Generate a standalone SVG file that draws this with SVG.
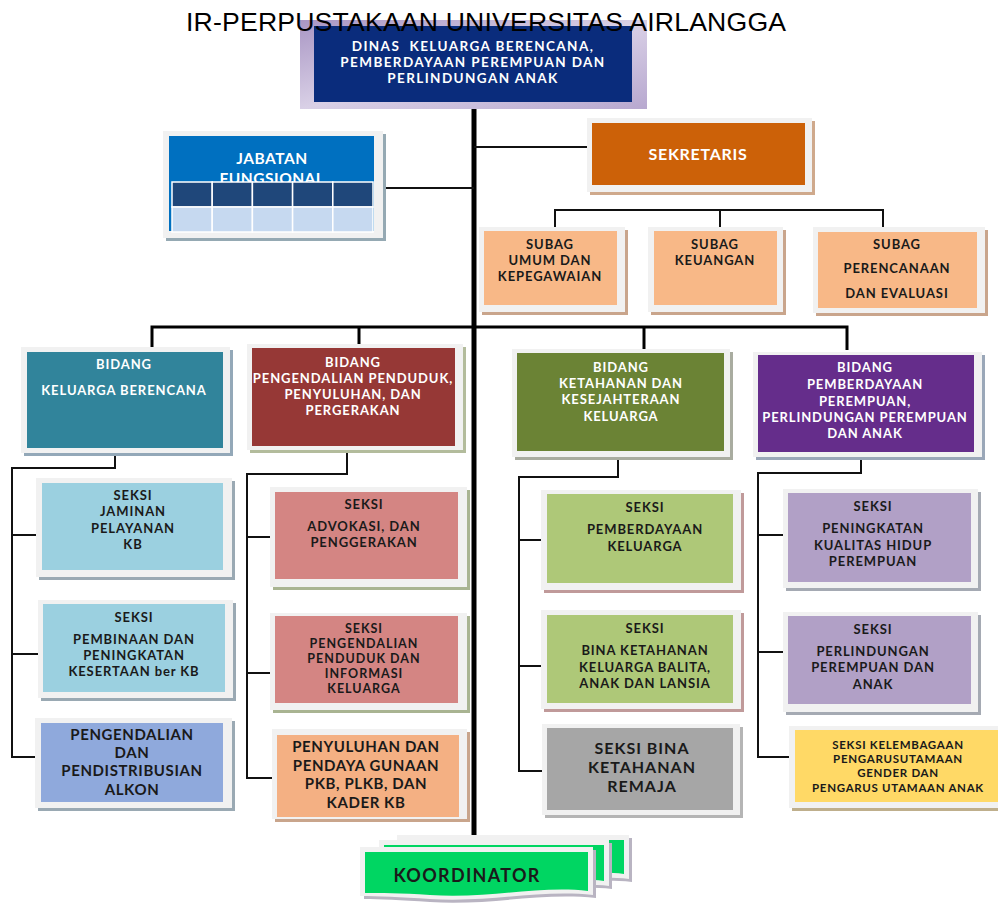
<svg xmlns="http://www.w3.org/2000/svg" width="998" height="905" viewBox="0 0 998 905">
<defs>
<linearGradient id="topg" x1="0" y1="0" x2="1" y2="1">
<stop offset="0" stop-color="#A996C4"/><stop offset="0.5" stop-color="#D9D0E6"/><stop offset="1" stop-color="#B7A8CF"/>
</linearGradient>
</defs>
<style>
.t{font-family:Lato,"Open Sans","DejaVu Sans",sans-serif;font-weight:700;text-anchor:middle;font-size:13px;letter-spacing:0.9px}
.w{fill:#ffffff}
.k{fill:#1a1a1a}
.big{font-size:15px;letter-spacing:0.6px}
.sm{font-size:11.5px;letter-spacing:0.7px}
.p5{font-size:12.5px;letter-spacing:1px}
.hd{font-size:13.5px;letter-spacing:1.4px}
.jb{font-size:15.5px;letter-spacing:0.5px}
.sk{font-size:16px;letter-spacing:0.7px}
.rm{font-size:16px;letter-spacing:1px}
.ko{font-size:18px;letter-spacing:1.3px}
.fr{fill:#F1F1F1}
.c{fill:none;stroke:#111;stroke-width:2}
.cb{fill:none;stroke:#000;stroke-width:3}
.trunk{fill:none;stroke:#000;stroke-width:5}
</style>
<rect width="998" height="905" fill="#ffffff"/>

<g id="connectors">
<line class="trunk" x1="474" y1="108" x2="474" y2="836"/>
<line class="c" x1="383" y1="188" x2="474" y2="188"/>
<line class="c" x1="474" y1="147" x2="587" y2="147"/>
<polyline class="c" points="555,227 555,210 883,210 883,227"/>
<line class="c" x1="720" y1="210" x2="720" y2="227"/>
<polyline class="cb" points="152,347 152,327 847,327 847,350"/>
<line class="cb" x1="359" y1="327" x2="359" y2="344"/>
<line class="cb" x1="644" y1="327" x2="644" y2="349"/>
<polyline class="c" points="115,453 115,468 12,468 12,757 35,757"/>
<line class="c" x1="12" y1="535" x2="36" y2="535"/>
<line class="c" x1="12" y1="654" x2="38" y2="654"/>
<polyline class="c" points="347,450 347,474 247,474 247,778 272,778"/>
<line class="c" x1="247" y1="537" x2="270" y2="537"/>
<line class="c" x1="247" y1="673" x2="270" y2="673"/>
<polyline class="c" points="618,457 618,477 519,477 519,771 542,771"/>
<line class="c" x1="519" y1="540" x2="541" y2="540"/>
<line class="c" x1="519" y1="666" x2="541" y2="666"/>
<polyline class="c" points="861,457 861,473 758,473 758,757 789,757"/>
<line class="c" x1="758" y1="535" x2="783" y2="535"/>
<line class="c" x1="758" y1="652" x2="783" y2="652"/>
</g>

<g id="dinas">
<rect x="300" y="20" width="347" height="89" fill="url(#topg)"/>
<rect x="314" y="26" width="318" height="76" fill="#0A2C7C"/>
<text class="t w hd" x="473" y="51" style="white-space:pre">DINAS  KELUARGA BERENCANA,</text>
<text class="t w hd" x="473" y="67">PEMBERDAYAAN PEREMPUAN DAN</text>
<text class="t w hd" x="473" y="83">PERLINDUNGAN ANAK</text>
</g>

<g id="title">
<text x="186" y="31" font-family="'Liberation Sans',Arial,sans-serif" font-size="26.6" fill="#000" textLength="600">IR-PERPUSTAKAAN UNIVERSITAS AIRLANGGA</text>
</g>

<g id="jabatan">
<rect x="166" y="134" width="220" height="107" fill="#95A9B3"/>
<rect class="fr" x="163" y="131" width="220" height="107"/>
<rect x="169" y="136" width="205" height="95" fill="#0070C0"/>
<text class="t w jb" x="272" y="164">JABATAN</text>
<text class="t w jb" x="272" y="184">FUNGSIONAL</text>
<g stroke="#ffffff" stroke-width="1.5">
<rect x="172" y="182" width="40.2" height="25" fill="#1F477A"/>
<rect x="212.2" y="182" width="40.2" height="25" fill="#1F477A"/>
<rect x="252.4" y="182" width="40.2" height="25" fill="#1F477A"/>
<rect x="292.6" y="182" width="40.2" height="25" fill="#1F477A"/>
<rect x="332.8" y="182" width="40.2" height="25" fill="#1F477A"/>
<rect x="172" y="207" width="40.2" height="25" fill="#C6D9F0"/>
<rect x="212.2" y="207" width="40.2" height="25" fill="#C6D9F0"/>
<rect x="252.4" y="207" width="40.2" height="25" fill="#C6D9F0"/>
<rect x="292.6" y="207" width="40.2" height="25" fill="#C6D9F0"/>
<rect x="332.8" y="207" width="40.2" height="25" fill="#C6D9F0"/>
</g>
</g>

<g id="sekretaris">
<rect x="590" y="121" width="225" height="74" fill="#CFA98C"/>
<rect class="fr" x="587" y="118" width="225" height="74"/>
<rect x="592" y="123" width="213" height="62" fill="#CC6108"/>
<text class="t w sk" x="698" y="160">SEKRETARIS</text>
</g>

<g id="subag-umum">
<rect x="482" y="230" width="146" height="85" fill="#C9A58C"/>
<rect class="fr" x="479" y="227" width="146" height="85"/>
<rect x="484" y="231" width="133" height="74" fill="#F8B887"/>
<text class="t k" x="550" y="249">SUBAG</text>
<text class="t k" x="550" y="265">UMUM DAN</text>
<text class="t k" x="550" y="281">KEPEGAWAIAN</text>
</g>
<g id="subag-keuangan">
<rect x="651" y="230" width="135" height="85" fill="#C9A58C"/>
<rect class="fr" x="648" y="227" width="135" height="85"/>
<rect x="654" y="231" width="123" height="74" fill="#F8B887"/>
<text class="t k" x="715" y="249">SUBAG</text>
<text class="t k" x="715" y="265">KEUANGAN</text>
</g>
<g id="subag-perencanaan">
<rect x="816" y="230" width="172" height="86" fill="#C9A58C"/>
<rect class="fr" x="813" y="227" width="172" height="86"/>
<rect x="818" y="232" width="159" height="76" fill="#F8B887"/>
<text class="t k" x="897" y="249">SUBAG</text>
<text class="t k" x="897" y="273">PERENCANAAN</text>
<text class="t k" x="897" y="298">DAN EVALUASI</text>
</g>

<g id="bidang-kb">
<rect x="24" y="350" width="209" height="106" fill="#93A8B8"/>
<rect class="fr" x="21" y="347" width="209" height="106"/>
<rect x="27" y="352" width="196" height="96" fill="#31849B"/>
<text class="t w" x="124" y="369">BIDANG</text>
<text class="t w" x="124" y="395">KELUARGA BERENCANA</text>
</g>
<g id="bidang-pengendalian">
<rect x="250" y="347" width="216" height="106" fill="#B3BC9C"/>
<rect class="fr" x="247" y="344" width="216" height="106"/>
<rect x="252" y="348" width="203" height="98" fill="#963836"/>
<text class="t w" x="353" y="367">BIDANG</text>
<text class="t w" x="353" y="383">PENGENDALIAN PENDUDUK,</text>
<text class="t w" x="353" y="399">PENYULUHAN, DAN</text>
<text class="t w" x="353" y="415">PERGERAKAN</text>
</g>
<g id="bidang-ketahanan">
<rect x="515" y="352" width="218" height="108" fill="#A9ACA0"/>
<rect class="fr" x="512" y="349" width="218" height="108"/>
<rect x="517" y="353" width="207" height="98" fill="#6B8335"/>
<text class="t w" x="621" y="372">BIDANG</text>
<text class="t w" x="621" y="388">KETAHANAN DAN</text>
<text class="t w" x="621" y="404">KESEJAHTERAAN</text>
<text class="t w" x="621" y="421">KELUARGA</text>
</g>
<g id="bidang-pemberdayaan">
<rect x="756" y="355" width="229" height="105" fill="#9AA7B8"/>
<rect class="fr" x="753" y="352" width="229" height="105"/>
<rect x="758" y="355" width="216" height="97" fill="#652D8B"/>
<text class="t w" x="865" y="372">BIDANG</text>
<text class="t w" x="865" y="389">PEMBERDAYAAN</text>
<text class="t w" x="865" y="406">PEREMPUAN,</text>
<text class="t w" x="865" y="422">PERLINDUNGAN PEREMPUAN</text>
<text class="t w" x="865" y="438">DAN ANAK</text>
</g>

<g id="seksi-jaminan">
<rect x="39" y="481" width="196" height="99" fill="#9AA9B3"/>
<rect class="fr" x="36" y="478" width="196" height="99"/>
<rect x="42" y="483" width="181" height="87" fill="#9BD0E0"/>
<text class="t k" x="133" y="500">SEKSI</text>
<text class="t k" x="133" y="516">JAMINAN</text>
<text class="t k" x="133" y="533">PELAYANAN</text>
<text class="t k" x="133" y="549">KB</text>
</g>
<g id="seksi-pembinaan">
<rect x="41" y="603" width="195" height="98" fill="#9AA9B3"/>
<rect class="fr" x="38" y="600" width="195" height="98"/>
<rect x="43" y="604" width="182" height="88" fill="#9BD0E0"/>
<text class="t k" x="134" y="622">SEKSI</text>
<text class="t k" x="134" y="644">PEMBINAAN DAN</text>
<text class="t k" x="134" y="660">PENINGKATAN</text>
<text class="t k" x="134" y="676">KESERTAAN ber KB</text>
</g>
<g id="pengendalian-alkon">
<rect x="38" y="721" width="197" height="90" fill="#9AA9B3"/>
<rect class="fr" x="35" y="718" width="197" height="90"/>
<rect x="41" y="723" width="182" height="79" fill="#8FA9DC"/>
<text class="t k big" x="132" y="740">PENGENDALIAN</text>
<text class="t k big" x="132" y="758">DAN</text>
<text class="t k big" x="132" y="776">PENDISTRIBUSIAN</text>
<text class="t k big" x="132" y="795">ALKON</text>
</g>

<g id="seksi-advokasi">
<rect x="273" y="490" width="197" height="100" fill="#A9B492"/>
<rect class="fr" x="270" y="487" width="197" height="100"/>
<rect x="275" y="492" width="183" height="87" fill="#D48583"/>
<text class="t k" x="364" y="509">SEKSI</text>
<text class="t k" x="364" y="531">ADVOKASI, DAN</text>
<text class="t k" x="364" y="547">PENGGERAKAN</text>
</g>
<g id="seksi-pengendalian-penduduk">
<rect x="273" y="616" width="197" height="97" fill="#A9B492"/>
<rect class="fr" x="270" y="613" width="197" height="97"/>
<rect x="275" y="616" width="183" height="87" fill="#D48583"/>
<text class="t k p5" x="364" y="633">SEKSI</text>
<text class="t k p5" x="364" y="648">PENGENDALIAN</text>
<text class="t k p5" x="364" y="663">PENDUDUK DAN</text>
<text class="t k p5" x="364" y="678">INFORMASI</text>
<text class="t k p5" x="364" y="693">KELUARGA</text>
</g>
<g id="penyuluhan">
<rect x="275" y="732" width="195" height="90" fill="#C9A58C"/>
<rect class="fr" x="272" y="729" width="195" height="90"/>
<rect x="277" y="735" width="182" height="82" fill="#F4B083"/>
<text class="t k big" x="366" y="752">PENYULUHAN DAN</text>
<text class="t k big" x="366" y="771">PENDAYA GUNAAN</text>
<text class="t k big" x="366" y="789">PKB, PLKB, DAN</text>
<text class="t k big" x="366" y="808">KADER KB</text>
</g>

<g id="seksi-pemberdayaan-keluarga">
<rect x="544" y="493" width="200" height="100" fill="#C09A9A"/>
<rect class="fr" x="541" y="490" width="200" height="100"/>
<rect x="547" y="494" width="186" height="89" fill="#AEC878"/>
<text class="t k" x="645" y="512">SEKSI</text>
<text class="t k" x="645" y="534">PEMBERDAYAAN</text>
<text class="t k" x="645" y="551">KELUARGA</text>
</g>
<g id="seksi-bina-balita">
<rect x="544" y="613" width="200" height="99" fill="#C09A9A"/>
<rect class="fr" x="541" y="610" width="200" height="99"/>
<rect x="547" y="615" width="186" height="88" fill="#AEC878"/>
<text class="t k" x="645" y="633">SEKSI</text>
<text class="t k" x="645" y="655">BINA KETAHANAN</text>
<text class="t k" x="645" y="672">KELUARGA BALITA,</text>
<text class="t k" x="645" y="688">ANAK DAN LANSIA</text>
</g>
<g id="seksi-bina-remaja">
<rect x="545" y="727" width="198" height="91" fill="#B5B5B5"/>
<rect class="fr" x="542" y="724" width="198" height="91"/>
<rect x="547" y="728" width="186" height="82" fill="#A6A6A6"/>
<text class="t k rm" x="642" y="754">SEKSI BINA</text>
<text class="t k rm" x="642" y="773">KETAHANAN</text>
<text class="t k rm" x="642" y="792">REMAJA</text>
</g>

<g id="seksi-kualitas-hidup">
<rect x="786" y="492" width="195" height="99" fill="#A5AAB3"/>
<rect class="fr" x="783" y="489" width="195" height="99"/>
<rect x="788" y="493" width="183" height="89" fill="#B1A0C6"/>
<text class="t k" x="873" y="511">SEKSI</text>
<text class="t k" x="873" y="533">PENINGKATAN</text>
<text class="t k" x="873" y="550">KUALITAS HIDUP</text>
<text class="t k" x="873" y="566">PEREMPUAN</text>
</g>
<g id="seksi-perlindungan">
<rect x="786" y="615" width="195" height="100" fill="#A5AAB3"/>
<rect class="fr" x="783" y="612" width="195" height="100"/>
<rect x="788" y="616" width="183" height="88" fill="#B1A0C6"/>
<text class="t k" x="873" y="634">SEKSI</text>
<text class="t k" x="873" y="656">PERLINDUNGAN</text>
<text class="t k" x="873" y="672">PEREMPUAN DAN</text>
<text class="t k" x="873" y="689">ANAK</text>
</g>
<g id="seksi-kelembagaan">
<rect x="792" y="729" width="210" height="82" fill="#BFAF8C"/>
<rect class="fr" x="789" y="726" width="212" height="82"/>
<rect x="795" y="730" width="206" height="72" fill="#FFD966"/>
<text class="t k sm" x="898" y="749">SEKSI KELEMBAGAAN</text>
<text class="t k sm" x="898" y="763">PENGARUSUTAMAAN</text>
<text class="t k sm" x="898" y="777">GENDER DAN</text>
<text class="t k sm" x="898" y="792">PENGARUS UTAMAAN ANAK</text>
</g>

<g id="koordinator">
<path d="M400,838 H632 V882 C590,878 560,886 530,884 H400 Z" fill="#B9B4C2"/>
<path d="M397,835 H629 V879 C590,875 560,883 530,881 H397 Z" fill="#F1F1F1"/>
<path d="M402,840 H624 V874 C590,870 560,878 530,876 H402 Z" fill="#00D662"/>
<path d="M382,843 H612 V889 C570,885 540,893 510,891 H382 Z" fill="#B9B4C2"/>
<path d="M379,840 H609 V886 C570,882 540,890 510,888 H379 Z" fill="#F1F1F1"/>
<path d="M384,845 H604 V881 C570,877 540,885 510,883 H384 Z" fill="#00D662"/>
<path d="M364,850 H596 V898 C540,892 490,906 430,902 C400,900 380,899 364,899 Z" fill="#B9B4C2"/>
<path d="M360,847 H593 V895 C540,889 490,903 430,899 C400,897 378,896 360,896 Z" fill="#F1F1F1"/>
<path d="M365,852 H588 V891 C540,885 490,899 430,895 C400,893 380,893 365,893 Z" fill="#00D662"/>
<text class="t k ko" x="467" y="882">KOORDINATOR</text>
</g>
</svg>
